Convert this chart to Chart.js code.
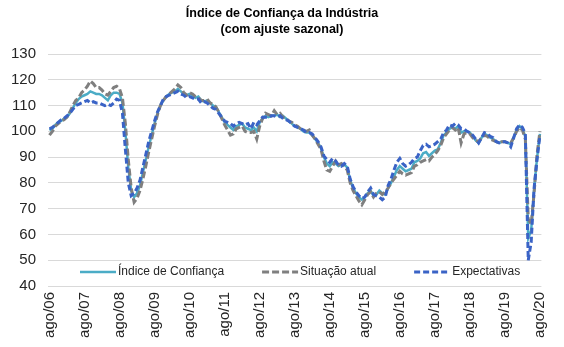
<!DOCTYPE html>
<html>
<head>
<meta charset="utf-8">
<script src="https://cdn.jsdelivr.net/npm/chart.js@4.4.1/dist/chart.umd.min.js"></script>
<style>
html,body{margin:0;padding:0;background:#fff;}
#wrap{width:564px;height:347px;}
</style>
</head>
<body>
<div id="wrap"><canvas id="c" width="564" height="347"></canvas></div>
<script>
// ---- categories (monthly, ago/06 .. ago/20) ----
const monthNames = ['jan','fev','mar','abr','mai','jun','jul','ago','set','out','nov','dez'];
const startYear = 2006, startMonth = 7, endYear = 2020, endMonth = 7;
const categories = [];
for (let y = startYear; y <= endYear; y++) {
  for (let m = 0; m < 12; m++) {
    if (y === startYear && m < startMonth) continue;
    if (y === endYear && m > endMonth) continue;
    categories.push(monthNames[m] + '/' + String(y).slice(2));
  }
}
const tickLabels = ['ago/06','ago/07','ago/08','ago/09','ago/10','ago/11','ago/12','ago/13','ago/14','ago/15','ago/16','ago/17','ago/18','ago/19','ago/20'];
const yTicks = [40, 50, 60, 70, 80, 90, 100, 110, 120, 130];

// ---- series ----
const indiceConfianca = [
  100.5, 101, 102.5, 103.5, 104,                                   // 2006 ago-dez
  105, 105.5, 107, 109, 111, 112.5, 113.5, 114, 114.5, 115.5, 115, 114.5, // 2007
  114.5, 114, 113, 112, 114, 115, 115, 114.5, 111, 100, 86, 77,     // 2008
  74.5, 76, 79, 84, 89, 94, 98.5, 103, 107, 110, 112, 113.5,        // 2009
  114.5, 115, 115.5, 116.5, 115.5, 114.5, 114, 114.5, 114, 113, 113.5, 112, // 2010
  111.5, 112, 111, 110, 109.5, 107.5, 105.5, 103.5, 102.5, 101.5, 100.5, 102, // 2011
  102.5, 103, 101.5, 101, 100.5, 101.5, 100, 103.5, 105, 106, 105.5, 106, // 2012
  106, 106.5, 105.5, 106, 105, 104, 103, 102, 101.5, 101, 100, 99.5, // 2013
  99.5, 98.5, 97, 95.5, 93.5, 90, 87.5, 86.5, 88, 87.5, 86.5, 87,   // 2014
  87, 86, 81, 78, 76, 74.5, 73.5, 74.5, 76, 77, 75, 75.5,           // 2015
  77, 76, 75.5, 78, 80, 82.5, 85, 86.5, 85.5, 84.5, 85, 85.5,       // 2016
  88, 88.5, 89.5, 91.5, 92, 90.5, 91.5, 92.5, 93, 95.5, 98.5, 99.5, // 2017
  101, 101.5, 101, 102, 99.5, 100, 100, 99.5, 98, 96.5, 95.5, 97.5, // 2018
  99, 98.5, 97.5, 97, 96, 95.5, 96, 96, 95.5, 95, 97.5, 100.5,      // 2019
  102, 101, 98, 58.5, 61.5, 77.5, 89.5, 99                          // 2020 jan-ago
];
const situacaoAtual = [
  98.5, 100, 102, 103, 104,
  104.5, 105.5, 107.5, 110, 112, 113, 115, 116, 117.5, 119.5, 118.5, 117,
  117, 116, 114.5, 114, 115.5, 117, 117.5, 116.5, 113, 103, 89, 78,
  72.5, 74, 77, 81.5, 86.5, 92, 97, 102, 106.5, 110, 112, 113.5,
  114.5, 115.5, 116.5, 118, 117, 115, 114, 115, 114.5, 113.5, 113, 112,
  112, 112.5, 111, 110.5, 109.5, 107.5, 105, 102.5, 100.5, 98.5, 99, 101,
  101.5, 102, 100, 99.5, 99.5, 100, 97, 102, 105, 107, 106.5, 106,
  108, 106.5, 107, 105.5, 105, 104, 103.5, 102.5, 102, 101, 100.5, 100,
  100.5, 98.5, 97, 95, 93, 88.5, 85, 84.5, 86.5, 88.5, 87, 87.5,
  86.5, 85, 80, 77, 75, 73, 71.5, 73.5, 75.5, 76.5, 74.5, 76,
  76.5, 75.5, 76.5, 78, 80, 81.5, 83, 84.5, 83.5, 83, 83.5, 84,
  86.5, 87, 88, 88.5, 89, 88.5, 90, 91, 92.5, 94.5, 97.5, 99,
  100.5, 101.5, 100.5, 101.5, 95.5, 99, 99.5, 99, 97.5, 96.5, 96, 97.5,
  98.5, 98, 97, 96.5, 96, 95.5, 96, 96, 95.5, 95.5, 97.5, 100,
  101.5, 100.5, 97, 66, 64, 76, 91, 100
];
const expectativas = [
  101, 101.5, 102.5, 103.5, 104.5,
  105, 106, 107, 108.5, 110, 110.5, 111, 111.5, 112, 111, 111.5, 111,
  111, 110.5, 110, 110.5, 110, 111, 112.5, 112, 107, 93, 80, 75,
  76, 78, 81, 86, 91, 96, 100, 104, 107.5, 110, 112.5, 113.5,
  114, 114.5, 115, 115.5, 114.5, 114, 113, 113.5, 113, 112.5, 112.5, 111,
  111.5, 111, 110, 109, 108.5, 107, 105.5, 104, 103.5, 103, 102, 103,
  103.5, 103, 102.5, 103, 101, 103.5, 102.5, 104, 105.5, 105.5, 105.5, 106,
  106, 105.5, 106, 105, 104.5, 104, 103, 102, 101.5, 101, 100.5, 99.5,
  99.5, 99, 97.5, 96, 94, 90.5, 89, 88, 89.5, 88.5, 87, 86.5,
  87.5, 86.5, 81.5, 78.5, 76.5, 75, 74, 74.5, 76.5, 78, 75.5, 75,
  74.5, 73.5, 74.5, 79, 81.5, 85, 88, 89.5, 87.5, 86.5, 87, 88,
  89.5, 90, 92.5, 94.5, 95, 94, 94.5, 95, 96, 97, 99.5, 100.5,
  102.5, 102, 103, 102.5, 101, 101, 100, 99.5, 98.5, 97, 95.5, 97.5,
  99.5, 99, 98, 97.5, 96, 95.5, 96, 96, 95.5, 94, 97.5, 101,
  102.5, 101.5, 99, 50, 57, 78, 89, 98.5
];
const seriesNames = ['Índice de Confiança', 'Situação atual', 'Expectativas'];

const FONT = '"Liberation Sans", Arial, sans-serif';

const insideLegend = {
  id: 'insideLegend',
  afterDatasetsDraw(chart) {
    const ctx = chart.ctx;
    const area = chart.chartArea;
    const y = area.bottom - 14;
    let x = area.left + 32;
    ctx.save();
    ctx.font = '12px ' + FONT;
    ctx.textBaseline = 'middle';
    ctx.textAlign = 'left';
    chart.data.datasets.forEach(ds => {
      ctx.strokeStyle = ds.borderColor;
      ctx.lineWidth = ds.borderWidth;
      ctx.setLineDash(ds.borderDash || []);
      ctx.lineCap = 'butt';
      ctx.beginPath();
      ctx.moveTo(x, y);
      ctx.lineTo(x + 36, y);
      ctx.stroke();
      ctx.setLineDash([]);
      ctx.fillStyle = '#262626';
      ctx.fillText(ds.label, x + 38, y);
      x += 38 + ctx.measureText(ds.label).width + 38;
    });
    ctx.restore();
  }
};

new Chart(document.getElementById('c'), {
  type: 'line',
  data: {
    labels: categories,
    datasets: [
      { label: seriesNames[0], data: indiceConfianca, borderColor: '#4BACC6', borderWidth: 2.5, pointRadius: 0, tension: 0, order: 2 },
      { label: seriesNames[1], data: situacaoAtual, borderColor: '#7F7F7F', borderWidth: 3, borderDash: [7, 3], pointRadius: 0, tension: 0, order: 1 },
      { label: seriesNames[2], data: expectativas, borderColor: '#3A63C6', borderWidth: 3, borderDash: [6, 3], pointRadius: 0, tension: 0, order: 0 }
    ]
  },
  options: {
    responsive: false,
    animation: false,
    layout: { padding: 0 },
    plugins: {
      legend: { display: false },
      tooltip: { enabled: false },
      title: {
        display: true,
        text: ['Índice de Confiança da Indústria', '(com ajuste sazonal)'],
        color: '#000',
        font: { family: FONT, size: 12.5, weight: 'bold', lineHeight: 1.3 },
        padding: { top: 5, bottom: 16.5 }
      }
    },
    scales: {
      x: {
        type: 'category',
        offset: true,
        grid: { display: false, drawTicks: false },
        border: { display: false },
        ticks: {
          autoSkip: false,
          minRotation: 90,
          maxRotation: 90,
          padding: 6,
          color: '#262626',
          font: { family: FONT, size: 15 },
          callback: function (v) {
            const l = this.getLabelForValue(v);
            return tickLabels.includes(l) ? l : '';
          }
        },
        afterFit: s => { s.height = 61; }
      },
      y: {
        min: 40,
        max: 130,
        afterBuildTicks: s => { s.ticks = yTicks.map(v => ({ value: v })); },
        grid: { color: '#D9D9D9', lineWidth: 1, drawTicks: false },
        border: { display: false },
        ticks: {
          padding: 12,
          color: '#262626',
          font: { family: FONT, size: 15 }
        },
        afterFit: s => { s.width = 48; }
      },
      yRight: {
        type: 'linear',
        position: 'right',
        display: true,
        grid: { display: false, drawTicks: false },
        border: { display: false },
        ticks: { display: false },
        afterFit: s => { s.width = 21; }
      }
    }
  },
  plugins: [insideLegend]
});
</script>
</body>
</html>
